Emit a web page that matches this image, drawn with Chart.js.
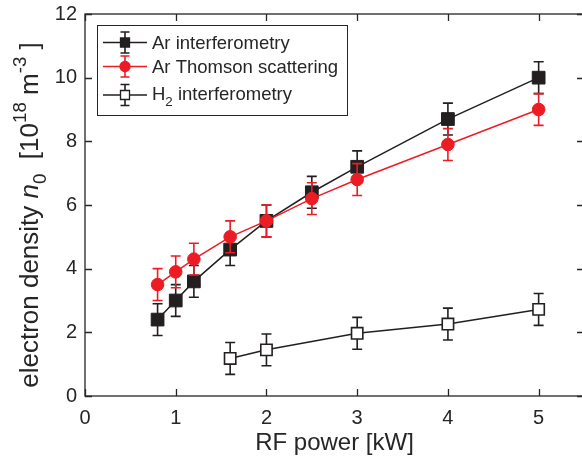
<!DOCTYPE html>
<html><head><meta charset="utf-8">
<script src="https://cdn.jsdelivr.net/npm/chart.js@4"></script>
<style>
html,body{margin:0;padding:0;overflow:hidden;background:#fff;width:582px;height:463px}
#wrap{position:absolute;left:0;top:0;width:594px;height:463px}
</style>
</head><body>
<div id="wrap"><canvas id="c" width="594" height="463" style="width:594px;height:463px"></canvas></div>
<script>
// ---- data ----
const seriesLabels = ['Ar interferometry', 'Ar Thomson scattering', 'H_{2} interferometry'];
const arPower      = [0.8, 1.0, 1.2, 1.6, 2.0, 2.5, 3.0, 4.0, 5.0];
const arInterf     = [2.4, 3.0, 3.6, 4.6, 5.5, 6.4, 7.2, 8.7, 10.0];
const arInterfErr  = [0.5, 0.5, 0.5, 0.5, 0.5, 0.5, 0.5, 0.5, 0.5];
const arThomson    = [3.5, 3.9, 4.3, 5.0, 5.5, 6.2, 6.8, 7.9, 9.0];
const arThomsonErr = [0.5, 0.5, 0.5, 0.5, 0.5, 0.5, 0.5, 0.5, 0.5];
const h2Power      = [1.6, 2.0, 3.0, 4.0, 5.0];
const h2Interf     = [1.18, 1.45, 1.97, 2.26, 2.72];
const h2InterfErr  = [0.5, 0.5, 0.5, 0.5, 0.5];
const xTicks = [0, 1, 2, 3, 4, 5];
const yTicks = [0, 2, 4, 6, 8, 10, 12];
const xTitle = 'RF power [kW]';
const yTitle = 'electron density \\it{n}_{0}  [10^{18} m^{-3} ]';

// ---- styles ----
const FONT = '"Liberation Sans", Arial, Helvetica, sans-serif';
const C_AXIS = '#262626';
const C_BLACK = '#231f20';
const C_RED = '#ec1c24';

// ---- rich text helpers ----
function parseRich(s) {
  const segs = []; let i = 0, buf = '';
  const push = (t, mode, it) => { if (t) segs.push({ t, mode, it }); };
  while (i < s.length) {
    if ((s[i] === '_' || s[i] === '^') && s[i + 1] === '{') {
      push(buf, 'n', false); buf = '';
      const mode = s[i] === '_' ? 'sub' : 'sup';
      const j = s.indexOf('}', i);
      push(s.slice(i + 2, j), mode, false); i = j + 1;
    } else if (s.startsWith('\\it{', i)) {
      push(buf, 'n', false); buf = '';
      const j = s.indexOf('}', i);
      push(s.slice(i + 4, j), 'n', true); i = j + 1;
    } else { buf += s[i]; i++; }
  }
  push(buf, 'n', false);
  return segs;
}
function segFont(seg, size) {
  const sz = seg.mode === 'n' ? size : size * 0.72;
  return (seg.it ? 'italic ' : '') + sz + 'px ' + FONT;
}
function richWidth(ctx, segs, size) {
  let w = 0;
  segs.forEach(s => { ctx.font = segFont(s, size); w += ctx.measureText(s.t).width; });
  return w;
}
function drawRich(ctx, segs, x, y, size) {
  ctx.textAlign = 'left'; ctx.textBaseline = 'alphabetic';
  segs.forEach(s => {
    ctx.font = segFont(s, size);
    const dy = s.mode === 'sub' ? size * 0.32 : s.mode === 'sup' ? -size * 0.45 : 0;
    ctx.fillText(s.t, x, y + dy);
    x += ctx.measureText(s.t).width;
  });
}

// ---- plugins ----
const errorBars = {
  id: 'errorBars',
  beforeDatasetDraw(chart, args) {
    const ds = chart.data.datasets[args.index];
    const ys = chart.scales.y, ctx = chart.ctx;
    ctx.save();
    ctx.strokeStyle = ds.borderColor; ctx.lineWidth = 1.6;
    args.meta.data.forEach((pt, i) => {
      const d = ds.data[i], e = ds.err[i];
      const x = pt.x;
      const y1 = ys.getPixelForValue(d.y + e), y2 = ys.getPixelForValue(d.y - e);
      ctx.beginPath();
      ctx.moveTo(x, y1); ctx.lineTo(x, y2);
      ctx.moveTo(x - 5, y1); ctx.lineTo(x + 5, y1);
      ctx.moveTo(x - 5, y2); ctx.lineTo(x + 5, y2);
      ctx.stroke();
    });
    ctx.restore();
  }
};

const frame = {
  id: 'frame',
  beforeDatasetsDraw(chart) {
    const { ctx, chartArea: a, scales } = chart;
    ctx.save();
    ctx.strokeStyle = C_AXIS; ctx.lineWidth = 1.3;
    ctx.strokeRect(a.left, a.top, a.right - a.left, a.bottom - a.top);
    ctx.beginPath();
    const L = 7;
    scales.x.ticks.forEach(t => {
      const x = Math.round(scales.x.getPixelForValue(t.value)) + 0.5;
      ctx.moveTo(x, a.bottom); ctx.lineTo(x, a.bottom - L);
      ctx.moveTo(x, a.top); ctx.lineTo(x, a.top + L);
    });
    scales.y.ticks.forEach(t => {
      const y = Math.round(scales.y.getPixelForValue(t.value)) + 0.5;
      ctx.moveTo(a.left, y); ctx.lineTo(a.left + L, y);
      ctx.moveTo(a.right, y); ctx.lineTo(a.right - L, y);
    });
    ctx.stroke();
    ctx.restore();
  },
  afterDraw(chart) {
    const ctx = chart.ctx;
    ctx.save();
    ctx.fillStyle = C_AXIS;
    const segs = parseRich(yTitle);
    const size = 26;
    const w = richWidth(ctx, segs, size);
    ctx.translate(38, 215);
    ctx.rotate(-Math.PI / 2);
    drawRich(ctx, segs, -w / 2, 0, size);
    ctx.restore();
  }
};

const legendBox = {
  id: 'legendBox',
  afterDraw(chart) {
    const ctx = chart.ctx;
    const bx = 97.5, by = 25.5, bw = 250, bh = 90;
    ctx.save();
    ctx.fillStyle = '#fff'; ctx.fillRect(bx, by, bw, bh);
    ctx.strokeStyle = C_AXIS; ctx.lineWidth = 1; ctx.strokeRect(bx, by, bw, bh);
    const rowsMarker = [42.5, 66.5, 95];
    const rowsText = [42.2, 66.5, 93.5];
    const size = 18.5;
    chart.data.datasets.forEach((ds, i) => {
      const y = rowsMarker[i];
      const cx = 125;
      ctx.strokeStyle = ds.borderColor;
      ctx.lineWidth = 1.3;
      ctx.beginPath(); ctx.moveTo(103, y); ctx.lineTo(147, y); ctx.stroke();
      ctx.lineWidth = 1.6;
      ctx.beginPath();
      ctx.moveTo(cx, y - 10.5); ctx.lineTo(cx, y + 10.5);
      ctx.moveTo(cx - 4.5, y - 10.5); ctx.lineTo(cx + 4.5, y - 10.5);
      ctx.moveTo(cx - 4.5, y + 10.5); ctx.lineTo(cx + 4.5, y + 10.5);
      ctx.stroke();
      ctx.fillStyle = ds.pointBackgroundColor;
      ctx.lineWidth = 1.3;
      ctx.beginPath();
      if (ds.pointStyle === 'circle') ctx.arc(cx, y, 5, 0, Math.PI * 2);
      else ctx.rect(cx - 4.5, y - 4.5, 9, 9);
      ctx.fill(); ctx.stroke();
      ctx.fillStyle = C_AXIS;
      drawRich(ctx, parseRich(ds.label), 152, rowsText[i] + size * 0.716 / 2, size);
    });
    ctx.restore();
  }
};

// ---- chart ----
const toPts = (xs, ys) => xs.map((x, i) => ({ x, y: ys[i] }));
new Chart(document.getElementById('c'), {
  type: 'scatter',
  data: {
    datasets: [
      { label: seriesLabels[0], data: toPts(arPower, arInterf), err: arInterfErr,
        showLine: true, borderColor: C_BLACK, borderWidth: 1.5,
        pointStyle: 'rect', pointRadius: 9, pointBackgroundColor: C_BLACK, pointBorderColor: C_BLACK, pointBorderWidth: 1, order: 2 },
      { label: seriesLabels[1], data: toPts(arPower, arThomson), err: arThomsonErr,
        showLine: true, borderColor: C_RED, borderWidth: 1.5,
        pointStyle: 'circle', pointRadius: 6.3, pointBackgroundColor: C_RED, pointBorderColor: C_RED, pointBorderWidth: 1, order: 1 },
      { label: seriesLabels[2], data: toPts(h2Power, h2Interf), err: h2InterfErr,
        showLine: true, borderColor: C_BLACK, borderWidth: 1.5,
        pointStyle: 'rect', pointRadius: 8, pointBackgroundColor: '#ffffff', pointBorderColor: C_BLACK, pointBorderWidth: 1.6, order: 3 }
    ]
  },
  options: {
    responsive: false, animation: false, devicePixelRatio: 1,
    layout: { padding: { top: 14, right: 0, left: 0, bottom: 0 } },
    plugins: { legend: { display: false }, tooltip: { enabled: false } },
    scales: {
      x: {
        type: 'linear', min: 0, max: 5.5,
        afterBuildTicks: s => { s.ticks = xTicks.map(v => ({ value: v })); },
        afterFit: s => { s.height = 67; s.paddingLeft = 0; s.paddingRight = 0; },
        grid: { display: false, drawTicks: false }, border: { display: false },
        ticks: { padding: 10, color: C_AXIS, font: { family: FONT, size: 20 }, maxRotation: 0, autoSkip: false },
        title: { display: true, text: xTitle, color: C_AXIS, font: { family: FONT, size: 24 }, padding: { top: 0, bottom: 5 } }
      },
      y: {
        type: 'linear', min: 0, max: 12,
        afterBuildTicks: s => { s.ticks = yTicks.map(v => ({ value: v })); },
        afterFit: s => { s.width = 85; s.paddingTop = 0; s.paddingBottom = 0; },
        grid: { display: false, drawTicks: false }, border: { display: false },
        ticks: { padding: 8, color: C_AXIS, font: { family: FONT, size: 20 }, autoSkip: false }
      }
    }
  },
  plugins: [frame, errorBars, legendBox]
});
</script>
</body></html>
